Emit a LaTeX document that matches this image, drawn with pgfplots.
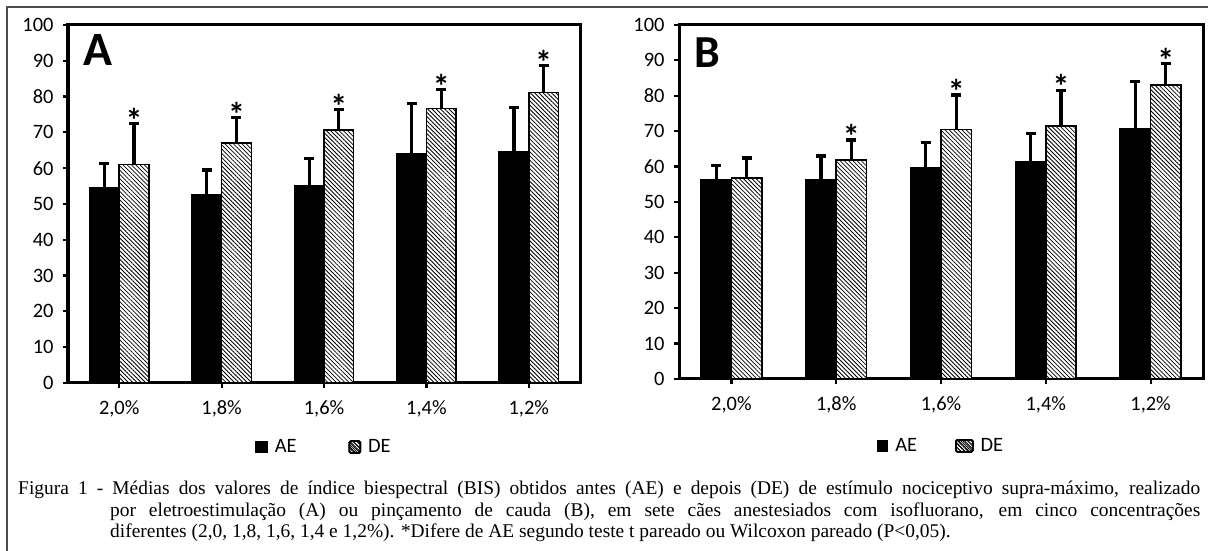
\documentclass[border=0pt]{standalone}
\usepackage{pgfplots}
\usepackage{pgfplotstable}
\pgfplotsset{compat=1.18}
\usetikzlibrary{patterns,patterns.meta}
\usepackage{fontspec}
\setmainfont{Carlito}
\newfontfamily\capfont{Liberation Serif}

\pgfplotstableread{
x ae aee de dee
0 54.5 6.8 61.1 11.4
1 52.7 6.8 67.1 7.0
2 55.0 7.8 70.7 5.7
3 64.0 14.1 76.7 5.3
4 64.6 12.3 81.2 7.5
}\dataA
\pgfplotstableread{
x top
0 72.5
1 74.1
2 76.4
3 82.0
4 88.7
}\starA
\pgfplotstableread{
x ae aee de dee
0 56.4 4.0 56.8 5.6
1 56.4 6.6 61.8 5.7
2 59.6 7.1 70.5 9.7
3 61.5 7.9 71.5 10.1
4 70.7 13.4 83.1 6.1
}\dataB
\pgfplotstableread{
x top
1 67.5
2 80.2
3 81.6
4 89.2
}\starB

\pgfplotsset{
  panel/.style={
    scale only axis,
    xmin=-0.5, xmax=4.5, ymin=0, ymax=100,
    ytick={0,10,...,100},
    xtick={0,1,2,3,4},
    xticklabels={{2,0\%},{1,8\%},{1,6\%},{1,4\%},{1,2\%}},
    axis line style={line width=3bp},
    tick style={line width=2.2bp, black},
    tick align=outside,
    major tick length=5bp,
    xtick pos=bottom, ytick pos=left,
    /pgf/number format/assume math mode=true,
    tick label style={font=\fontsize{20.5}{24}\selectfont},
    yticklabel style={xshift=-6bp},
    xticklabel style={yshift=-9bp},
    legend style={draw=none, fill=none, legend columns=2,
      font=\fontsize{20.5}{24}\selectfont, anchor=center,
      /tikz/every odd column/.append style={column sep=5bp}},
    clip=false,
  },
  errs/.style={
    error bars/y dir=plus, error bars/y explicit,
    error bars/error bar style={line width=3.2bp, black},
    error bars/error mark options={rotate=90, line width=3.2bp, mark size=5bp, black}},
  aebar/.style={ybar, bar width=0.29, bar shift=0pt, fill=black, draw=black, line width=1.5bp, errs},
  debar/.style={ybar, bar width=0.29, bar shift=0pt, fill=white, draw=black, line width=1.5bp,
    postaction={pattern={Lines[angle=-45,distance=3bp,line width=0.8bp]}}, errs},
  stars/.style={draw=none, mark=none, forget plot,
    nodes near coords={*},
    nodes near coords style={font=\fontsize{34}{34}\selectfont\bfseries, anchor=south, inner sep=0pt, yshift=-9bp}},
}

\begin{document}
\begin{tikzpicture}
\useasboundingbox (0bp,0bp) rectangle (1208bp,551bp);
\draw[line width=1.5bp, black!70] (7bp,0bp) -- (7bp,544bp) -- (1208bp,544bp);

% Panel A
\begin{axis}[panel, at={(68bp,168bp)}, anchor=south west, width=512bp, height=358bp,
  legend style={at={(0.5,-0.179)}, /tikz/every even column/.append style={column sep=50bp}}]
\addplot[aebar, legend image code/.code={\fill[black] (0bp,-5.5bp) rectangle (11bp,5.5bp);}]
  table[x expr=\thisrow{x}-0.145, y=ae, y error plus=aee] {\dataA};
\addlegendentry{AE}
\addplot[debar, legend image code/.code={\draw[black, line width=1.5bp, rounded corners=1.5bp, fill=white, postaction={pattern={Lines[angle=-45,distance=2.5bp,line width=0.8bp]}}] (0bp,-6bp) rectangle (11bp,6bp);}]
  table[x expr=\thisrow{x}+0.145, y=de, y error plus=dee] {\dataA};
\addlegendentry{DE}
\addplot[stars] table[x expr=\thisrow{x}+0.145, y=top] {\starA};
\node[anchor=north west, font=\fontsize{48}{48}\selectfont\bfseries, inner sep=0pt] at (rel axis cs:0.03,0.975) {A};
\end{axis}

% Panel B
\begin{axis}[panel, at={(679bp,172bp)}, anchor=south west, width=524bp, height=354bp,
  legend style={at={(0.5,-0.189)}, /tikz/every even column/.append style={column sep=36bp}}]
\addplot[aebar, legend image code/.code={\fill[black] (0bp,-5bp) rectangle (10bp,5bp);}]
  table[x expr=\thisrow{x}-0.145, y=ae, y error plus=aee] {\dataB};
\addlegendentry{AE}
\addplot[debar, legend image code/.code={\draw[black, line width=1.5bp, rounded corners=1.5bp, fill=white, postaction={pattern={Lines[angle=-45,distance=2.5bp,line width=0.8bp]}}] (0bp,-6bp) rectangle (17bp,6bp);}]
  table[x expr=\thisrow{x}+0.145, y=de, y error plus=dee] {\dataB};
\addlegendentry{DE}
\addplot[stars] table[x expr=\thisrow{x}+0.145, y=top] {\starB};
\node[anchor=north west, font=\fontsize{46}{46}\selectfont\bfseries, inner sep=0pt] at (rel axis cs:0.03,0.965) {B};
\end{axis}

% Caption
\node[anchor=base west, inner sep=0pt] at (18bp,56bp) {\parbox[t]{1182bp}{\capfont\fontsize{19.5}{21.5}\selectfont
\tolerance=9999\emergencystretch=20bp\parindent=0pt
\hangindent=92bp\hangafter=1
Figura 1 - Médias dos valores de índice biespectral (BIS) obtidos antes (AE) e depois (DE) de estímulo nociceptivo supra-máximo, realizado\linebreak
por eletroestimulação (A) ou pinçamento de cauda (B), em sete cães anestesiados com isofluorano, em cinco concentrações\linebreak
diferentes (2,0, 1,8, 1,6, 1,4 e 1,2\%). *Difere de AE segundo teste t pareado ou Wilcoxon pareado (P<0,05).}};
\end{tikzpicture}
\end{document}
